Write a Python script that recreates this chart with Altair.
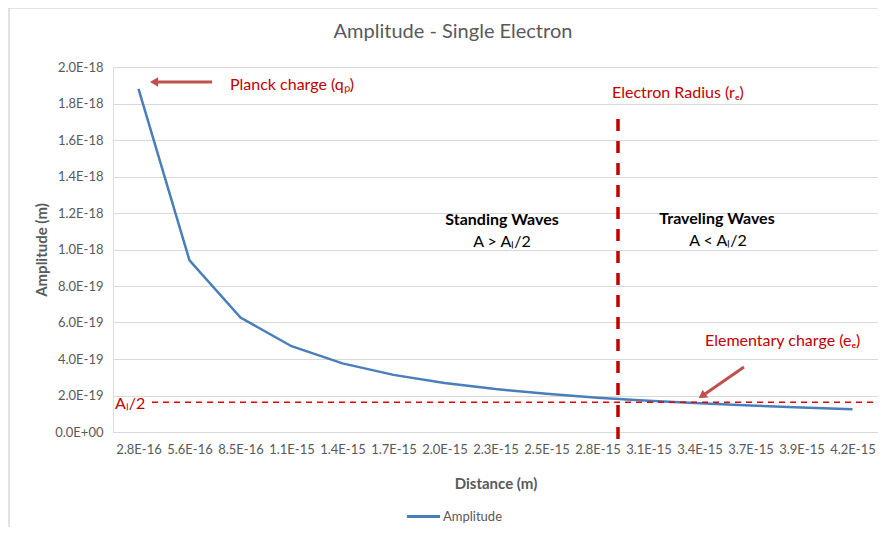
import altair as alt
import pandas as pd

distances = ["2.8E-16", "5.6E-16", "8.5E-16", "1.1E-15", "1.4E-15", "1.7E-15", "2.0E-15",
             "2.3E-15", "2.5E-15", "2.8E-15", "3.1E-15", "3.4E-15", "3.7E-15", "3.9E-15", "4.2E-15"]
amplitudes = [1.88e-18, 9.40e-19, 6.27e-19, 4.70e-19, 3.76e-19, 3.13e-19, 2.69e-19,
              2.35e-19, 2.09e-19, 1.88e-19, 1.71e-19, 1.57e-19, 1.45e-19, 1.34e-19, 1.25e-19]
y_ticks = [0.0, 2e-19, 4e-19, 6e-19, 8e-19, 1e-18, 1.2e-18, 1.4e-18, 1.6e-18, 1.8e-18, 2e-18]
half_amplitude = [1.63e-19]

FONT = "Lato"
GRAY = "#595959"
RED = "#C00000"
ARROW = "#C0504D"
BLUE = "#4A7EBB"

W, H = 765, 365

df = pd.DataFrame({"Distance": distances, "Amplitude": amplitudes, "series": "Amplitude"})

x_enc = alt.X("Distance:N", sort=distances,
              scale=alt.Scale(type="point", padding=0.5),
              axis=alt.Axis(title="Distance (m)", labelAngle=0, labelFont=FONT, labelFontSize=13,
                            labelColor=GRAY, labelPadding=11, ticks=False, domainColor="#D9D9D9",
                            labelOverlap=False,
                            titleFont=FONT, titleFontSize=15, titleColor=GRAY, titleFontWeight="bold",
                            titlePadding=20, grid=False))
y_enc = alt.Y("Amplitude:Q", scale=alt.Scale(domain=[0, 2e-18], nice=False),
              axis=alt.Axis(title="Amplitude (m)", values=y_ticks, tickCount=20, labelOverlap=False,
                            labelExpr="datum.value == 0 ? '0.0E+00' : replace(format(datum.value, '.1e'), 'e', 'E')",
                            labelFont=FONT, labelFontSize=13, labelColor=GRAY, labelPadding=10,
                            ticks=False, domain=False, gridColor="#D9D9D9", gridWidth=1,
                            titleFont=FONT, titleFontSize=15, titleColor=GRAY, titleFontWeight="bold",
                            titlePadding=5))

frame = alt.Chart(pd.DataFrame({"x": [-104, -104], "x2": [W + 10, -104], "y": [-59, -59], "y2": [-59, H + 120]})).mark_rule(
    color="#D9D9D9", strokeWidth=1.5, clip=False
).encode(x=alt.X("x:Q", scale=None), x2="x2:Q", y=alt.Y("y:Q", scale=None), y2="y2:Q")

line = alt.Chart(df).mark_line(strokeWidth=2.5).encode(
    x=x_enc, y=y_enc,
    color=alt.Color("series:N", scale=alt.Scale(range=[BLUE]),
                    legend=alt.Legend(title=None, orient="none", legendX=292, legendY=431,
                                      symbolType="stroke", symbolStrokeWidth=3, symbolSize=1100,
                                      labelFont=FONT, labelFontSize=13, labelColor=GRAY,
                                      labelOffset=1, padding=0))
)

hline = alt.Chart(pd.DataFrame({"y": half_amplitude})).mark_rule(
    color="#E00000", strokeWidth=1.5, strokeDash=[6, 5]
).encode(y=alt.Y("y:Q"), x=alt.value(39), x2=alt.value(W - 5))

vline = alt.Chart(pd.DataFrame({"a": [0]})).mark_rule(
    color=RED, strokeWidth=3.5, strokeDash=[12, 10], clip=False
).encode(x=alt.value(505), y=alt.value(52), y2=alt.value(374))

arrow_lines = alt.Chart(pd.DataFrame({"x": [44, 631], "x2": [99, 592], "y": [15, 300], "y2": [15, 327]})).mark_rule(
    color=ARROW, strokeWidth=3
).encode(x=alt.X("x:Q", scale=None), x2="x2:Q", y=alt.Y("y:Q", scale=None), y2="y2:Q")

arrow_heads = alt.Chart(pd.DataFrame({"x": [41, 589], "y": [15, 329], "ang": [270, 235]})).mark_point(
    shape="triangle-up", filled=True, color=ARROW, size=90, opacity=1
).encode(x=alt.X("x:Q", scale=None), y=alt.Y("y:Q", scale=None), angle=alt.Angle("ang:Q", scale=None))

title = alt.Chart(pd.DataFrame({"t": ["Amplitude - Single Electron"], "x": [340], "y": [-35]})).mark_text(
    font=FONT, fontSize=20, color=GRAY, align="center", baseline="middle"
).encode(x=alt.X("x:Q", scale=None), y=alt.Y("y:Q", scale=None), text="t:N")

red_texts = alt.Chart(pd.DataFrame({
    "t": ["Planck charge (qₚ)", "Electron Radius (rₑ)", "Elementary charge (eₑ)", "Aₗ/2"],
    "x": [117, 499, 592, 2], "y": [18, 26, 274, 337]
})).mark_text(font=FONT, fontSize=16, color=RED, align="left", baseline="middle").encode(
    x=alt.X("x:Q", scale=None), y=alt.Y("y:Q", scale=None), text="t:N")

bold_texts = alt.Chart(pd.DataFrame({
    "t": ["Standing Waves", "Traveling Waves"], "x": [389, 604], "y": [153, 152]
})).mark_text(font=FONT, fontSize=16, fontWeight="bold", color="black", align="center", baseline="middle").encode(
    x=alt.X("x:Q", scale=None), y=alt.Y("y:Q", scale=None), text="t:N")

plain_texts = alt.Chart(pd.DataFrame({
    "t": ["A > Aₗ/2", "A < Aₗ/2"], "x": [389, 605], "y": [175, 174]
})).mark_text(font=FONT, fontSize=16, color="black", align="center", baseline="middle").encode(
    x=alt.X("x:Q", scale=None), y=alt.Y("y:Q", scale=None), text="t:N")

chart = alt.layer(frame, line, hline, vline, arrow_lines, arrow_heads, title, red_texts, bold_texts, plain_texts).properties(
    width=W, height=H,
    autosize=alt.AutoSizeParams(type="none"),
    padding={"left": 105, "top": 59, "right": 0, "bottom": 95},
).configure_view(stroke=None).configure(background="white")

chart.save("out.html", embed_options={"renderer": "svg", "actions": False})
